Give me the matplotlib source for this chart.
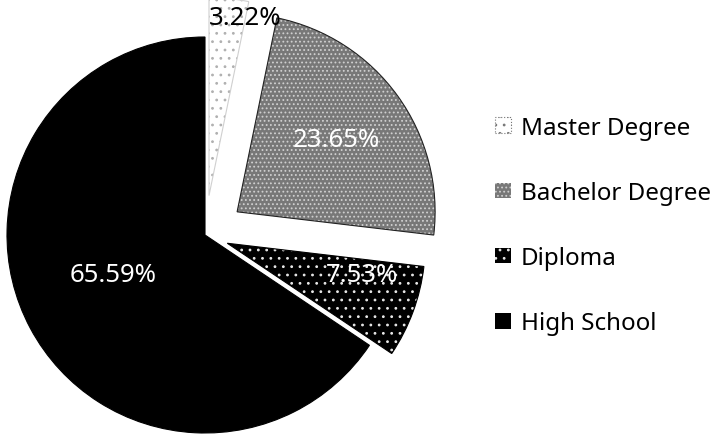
import numpy as np
import matplotlib
matplotlib.use('Agg')
import matplotlib.pyplot as plt
from matplotlib.patches import Patch

# data
categories = ['Master Degree', 'Bachelor Degree', 'Diploma', 'High School']
shares = [3.22, 23.65, 7.53, 65.59]
pct_labels = ['3.22%', '23.65%', '7.53%', '65.59%']

# styling per slice
explode = [0.2, 0.2, 0.12, 0.0]
face_colors = ['white', '#787878', 'black', 'black']
hatch_colors = ['#b0b0b0', '#d0d0d0', '#e8e8e8', 'black']
hatches = ['..', '....', '..', None]
outline_colors = ['#d0d0d0', '#222222', 'black', 'black']
label_colors = ['black', 'white', 'white', 'white']
label_dist = [0.92, 0.62, 0.70, 0.505]
label_frac = [0.0, 0.5, 0.775, 0.48]   # where along the wedge's arc the label sits

plt.rcParams['font.family'] = ['Noto Sans', 'DejaVu Sans']
plt.rcParams['hatch.linewidth'] = 0.8

W, H = 719, 435
R_PX = 198.0
CX, CY = 205.0, 236.0

fig = plt.figure(figsize=(W / 100, H / 100), dpi=100)
ax = fig.add_axes([0, 0, 1, 1])

# fill + hatch layer
wedges, _ = ax.pie(shares, explode=explode, startangle=90, counterclock=False,
                   radius=1.0, wedgeprops=dict(linewidth=0))
for w, fc, hc, h in zip(wedges, face_colors, hatch_colors, hatches):
    w.set_facecolor(fc)
    w.set_edgecolor(hc)
    if h:
        w.set_hatch(h)

# outline layer
outlines, _ = ax.pie(shares, explode=explode, startangle=90, counterclock=False,
                     radius=1.0, wedgeprops=dict(fill=False, linewidth=0.8))
for w, oc in zip(outlines, outline_colors):
    w.set_edgecolor(oc)

# percentage labels
for w, txt, col, d, f in zip(wedges, pct_labels, label_colors, label_dist, label_frac):
    ang = np.deg2rad(w.theta1 + f * (w.theta2 - w.theta1))
    x = w.center[0] + d * w.r * np.cos(ang)
    y = w.center[1] + d * w.r * np.sin(ang)
    ax.text(x, y, txt, color=col, fontsize=18.5, ha='center', va='center')

ax.set_aspect('auto')
ax.set_xlim(-CX / R_PX, (W - CX) / R_PX)
ax.set_ylim(-(H - CY) / R_PX, CY / R_PX)
ax.axis('off')

handles = []
for fc, hc, h in zip(face_colors, hatch_colors, hatches):
    if fc == 'white':
        handles.append(Patch(facecolor='white', edgecolor='#777777', hatch='..',
                             linestyle=':', linewidth=0.8))
    else:
        handles.append(Patch(facecolor=fc, edgecolor=hc, hatch=h, linewidth=0))

leg = fig.legend(handles, categories, loc='center left',
                 bbox_to_anchor=(495 / W, 1 - 226.5 / H), frameon=False,
                 fontsize=17.4, handlelength=0.68, handleheight=0.62,
                 handletextpad=0.4, labelspacing=1.71, borderpad=0,
                 borderaxespad=0)

fig.savefig('out.png', dpi=100)
